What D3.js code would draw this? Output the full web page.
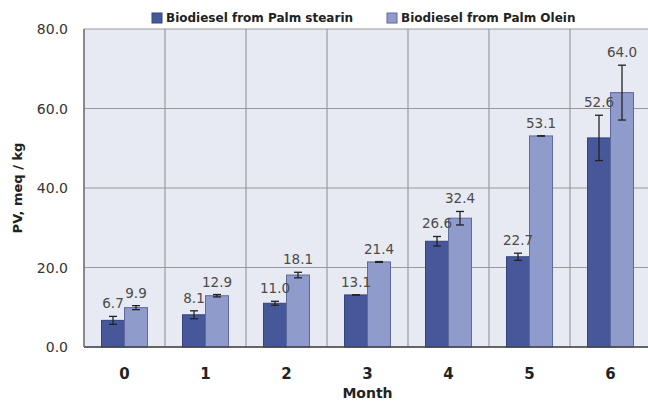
<!DOCTYPE html>
<html>
<head>
<meta charset="utf-8">
<script src="https://cdn.jsdelivr.net/npm/d3@7"></script>
<style>
  body { margin: 0; background: #fff; }
  svg { display: block; font-family: "DejaVu Sans", Verdana, sans-serif; }
</style>
</head>
<body>
<div id="chart"></div>
<script>
// data
const months = ["0", "1", "2", "3", "4", "5", "6"];
const seriesNames = ["Biodiesel from Palm stearin", "Biodiesel from Palm Olein"];
const stearin = [6.7, 8.1, 11.0, 13.1, 26.6, 22.7, 52.6];
const stearinErr = [1.0, 1.0, 0.5, 0.0, 1.2, 0.9, 5.7];
const olein = [9.9, 12.9, 18.1, 21.4, 32.4, 53.1, 64.0];
const oleinErr = [0.5, 0.3, 0.7, 0.1, 1.7, 0.0, 6.9];
const yTicks = [0, 20, 40, 60, 80];

const colors = ["#47589a", "#8f9bcb"];
const strokes = ["#34447c", "#5e6a9e"];

const W = 648, H = 401;
const margin = { top: 29, right: -3, bottom: 54, left: 84 };
const width = W - margin.left - margin.right;
const height = H - margin.top - margin.bottom;

const svg = d3.select("#chart").append("svg")
    .attr("width", W)
    .attr("height", H);

const g = svg.append("g")
    .attr("transform", `translate(${margin.left},${margin.top})`);

const x = d3.scaleBand().domain(months).range([0, width]).padding(0);
const x1 = d3.scaleBand().domain([0, 1]).range([17.5, x.bandwidth() - 17.5]);
const y = d3.scaleLinear().domain([0, 80]).range([height, 0]);

// plot background
g.append("rect")
    .attr("width", width)
    .attr("height", height)
    .attr("fill", "#e8eaf3");

// horizontal grid
g.selectAll(".hgrid")
    .data(yTicks)
    .enter().append("line")
    .attr("x1", 0).attr("x2", width)
    .attr("y1", d => y(d)).attr("y2", d => y(d))
    .attr("stroke", "#9a9a9a")
    .attr("stroke-width", 1.2);

// vertical grid at category edges
g.selectAll(".vgrid")
    .data(months)
    .enter().append("line")
    .attr("x1", d => x(d)).attr("x2", d => x(d))
    .attr("y1", 0).attr("y2", height)
    .attr("stroke", "#9a9a9a")
    .attr("stroke-width", 1.2);

// y tick labels
g.selectAll(".ytick")
    .data(yTicks)
    .enter().append("text")
    .attr("x", -16)
    .attr("y", d => y(d))
    .attr("dy", "0.36em")
    .attr("text-anchor", "end")
    .attr("font-size", 14)
    .attr("fill", "#333")
    .text(d => d3.format(".1f")(d));

// build bar records
const bars = [];
months.forEach((m, i) => {
    bars.push({ m, s: 0, v: stearin[i], e: stearinErr[i] });
    bars.push({ m, s: 1, v: olein[i], e: oleinErr[i] });
});

g.selectAll(".bar")
    .data(bars)
    .enter().append("rect")
    .attr("x", d => x(d.m) + x1(d.s))
    .attr("y", d => y(d.v))
    .attr("width", x1.bandwidth())
    .attr("height", d => height - y(d.v))
    .attr("fill", d => colors[d.s])
    .attr("stroke", d => strokes[d.s])
    .attr("stroke-width", 1);

// error bars
const eb = g.selectAll(".err")
    .data(bars)
    .enter().append("g")
    .attr("stroke", "#222")
    .attr("stroke-width", 1.3);

eb.append("line")
    .attr("x1", d => x(d.m) + x1(d.s) + x1.bandwidth() / 2)
    .attr("x2", d => x(d.m) + x1(d.s) + x1.bandwidth() / 2)
    .attr("y1", d => y(d.v + d.e))
    .attr("y2", d => y(d.v - d.e));
eb.selectAll(".cap")
    .data(d => [d.v + d.e, d.v - d.e].map(v => ({ d, v })))
    .enter().append("line")
    .attr("x1", o => x(o.d.m) + x1(o.d.s) + x1.bandwidth() / 2 - 4)
    .attr("x2", o => x(o.d.m) + x1(o.d.s) + x1.bandwidth() / 2 + 4)
    .attr("y1", o => y(o.v))
    .attr("y2", o => y(o.v));

// value labels
g.selectAll(".val")
    .data(bars)
    .enter().append("text")
    .attr("x", d => x(d.m) + x1(d.s) + x1.bandwidth() / 2)
    .attr("y", d => y(d.v + d.e) - 8)
    .attr("text-anchor", "middle")
    .attr("font-size", 13.5)
    .attr("fill", "#4a4a4a")
    .text(d => d3.format(".1f")(d.v));

// x axis line
g.append("line")
    .attr("x1", 0).attr("x2", width)
    .attr("y1", height).attr("y2", height)
    .attr("stroke", "#444")
    .attr("stroke-width", 1.5);

// left border
g.append("line")
    .attr("x1", 0).attr("x2", 0)
    .attr("y1", 0).attr("y2", height)
    .attr("stroke", "#777")
    .attr("stroke-width", 1.5);

// category labels
g.selectAll(".xtick")
    .data(months)
    .enter().append("text")
    .attr("x", d => x(d) + x.bandwidth() / 2)
    .attr("y", height + 32)
    .attr("text-anchor", "middle")
    .attr("font-size", 15)
    .attr("font-weight", "bold")
    .attr("fill", "#222")
    .text(d => d);

// x axis title
g.append("text")
    .attr("x", width / 2)
    .attr("y", height + 51)
    .attr("text-anchor", "middle")
    .attr("font-size", 14)
    .attr("font-weight", "bold")
    .attr("fill", "#222")
    .text("Month");

// y axis title
g.append("text")
    .attr("transform", "rotate(-90)")
    .attr("x", -height / 2)
    .attr("y", -62)
    .attr("text-anchor", "middle")
    .attr("font-size", 13)
    .attr("font-weight", "bold")
    .attr("fill", "#222")
    .text("PV, meq / kg");

// legend
const legendX = [152, 387];
const legend = svg.selectAll(".legend")
    .data(seriesNames)
    .enter().append("g")
    .attr("transform", (d, i) => `translate(${legendX[i]},13)`);
legend.append("rect")
    .attr("width", 10).attr("height", 10)
    .attr("fill", (d, i) => colors[i])
    .attr("stroke", (d, i) => strokes[i]);
legend.append("text")
    .attr("x", 14)
    .attr("y", 5)
    .attr("dy", "0.36em")
    .attr("font-size", 12)
    .attr("font-weight", "bold")
    .attr("fill", "#222")
    .text(d => d);
</script>
</body>
</html>
